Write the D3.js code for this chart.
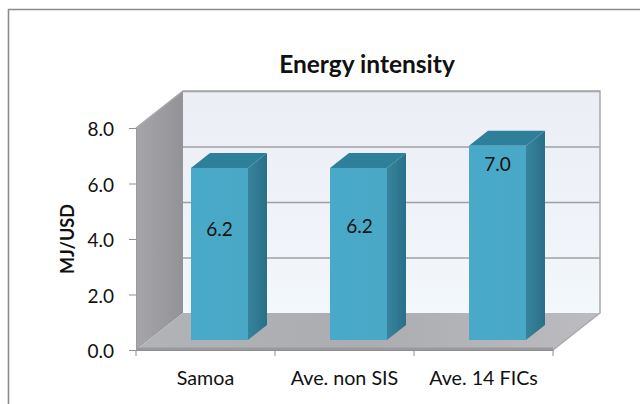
<!DOCTYPE html>
<html><head><meta charset="utf-8">
<script src="https://cdn.jsdelivr.net/npm/d3@7"></script>
<style>html,body{margin:0;background:#fff}svg{display:block}text{font-family:Lato,"Open Sans",sans-serif;fill:#111}</style>
</head><body><svg id="c" width="640" height="404"></svg>
<script>
const categories=["Samoa","Ave. non SIS","Ave. 14 FICs"];
const values=[6.2,6.2,7.0];
const valueLabels=["6.2","6.2","7.0"];
const yTicks=[0,2,4,6,8];
const title="Energy intensity";
const yTitle="MJ/USD";

const svg=d3.select("#c");
const x=d3.scaleBand().domain(categories).range([136,553]);
const y=d3.scaleLinear().domain([0,8]).range([350,128]);
const dx=47,dy=-37;        // chart depth
const bdx=19,bdy=-15;      // bar depth
const barW=57,barLift=10;
const labelShift=[[0,68],[1,65],[0,25]]; // label baseline offsets from bar top

const defs=svg.append("defs");
defs.append("filter").attr("id","soft").append("feGaussianBlur").attr("stdDeviation",0.55);
const grad=(id,x2,y2,stops)=>{const g=defs.append("linearGradient").attr("id",id).attr("x1",0).attr("y1",0).attr("x2",x2).attr("y2",y2);
 stops.forEach(s=>g.append("stop").attr("offset",s[0]).attr("stop-color",s[1]));};
grad("back",0,1,[[0,"#eceef5"],[.55,"#eff2f8"],[1,"#f3f8fc"]]);
grad("side",1,0,[[0,"#a6a6aa"],[1,"#929297"]]);
grad("floor",1,0,[[0,"#b2b3b7"],[.5,"#acadb1"],[1,"#bcbcc0"]]);
grad("front",1,0,[[0,"#48a9c9"],[1,"#4aa8c5"]]);
grad("sideBar",1,0,[[0,"#37849c"],[1,"#296f88"]]);

// outer frame
svg.append("path").attr("d","M8.5,404V9.5H640").attr("fill","none").attr("stroke","#8c8c8c").attr("stroke-width",1.6);

const art=svg.append("g").attr("filter","url(#soft)");
const poly=(pts,fill)=>art.append("polygon").attr("points",pts.map(p=>p.join(",")).join(" ")).attr("fill",fill);
const x0=x.range()[0],x1=x.range()[1],yb=y(0),yt=y(8);
// walls
poly([[x0+dx,yt+dy],[x1+dx,yt+dy],[x1+dx,yb+dy],[x0+dx,yb+dy]],"url(#back)");
poly([[x0,yt],[x0+dx,yt+dy],[x0+dx,yb+dy],[x0,yb]],"url(#side)");
poly([[x0,yb],[x0+dx,yb+dy],[x1+dx,yb+dy],[x1,yb]],"url(#floor)");
// floor lip
art.append("line").attr("x1",x0).attr("x2",x1).attr("y1",yb-1).attr("y2",yb-1).attr("stroke","#9a9a9e").attr("stroke-width",3);
// gridlines
yTicks.slice(1).forEach(t=>{
  art.append("line").attr("x1",x0+dx).attr("x2",x1+dx).attr("y1",y(t)+dy+.5).attr("y2",y(t)+dy+.5).attr("stroke","#a0a0a4").attr("stroke-width",1.5);
});
// wall edges
art.append("path").attr("d",`M${x0},${yt}L${x0+dx},${yt+dy}H${x1+dx}V${yb+dy}L${x1},${yb}`).attr("fill","none").attr("stroke","#a8a8ac").attr("stroke-width",1.5);
// bars
categories.forEach((c,i)=>{
  const l=x(c)+55,r=l+barW,b=y(0)-barLift,top=y(values[i])-barLift;
  poly([[r,top],[r+bdx,top+bdy],[r+bdx,b+bdy],[r,b]],"url(#sideBar)");
  poly([[l,top],[l+bdx,top+bdy],[r+bdx,top+bdy],[r,top]],"#2f7f99");
  art.append("rect").attr("x",l).attr("y",top).attr("width",barW).attr("height",b-top).attr("fill","url(#front)");
});
// axes
const gy=svg.append("g").attr("transform",`translate(${x0},0)`).call(d3.axisLeft(y).tickValues(yTicks).tickSize(7).tickPadding(14).tickFormat(d3.format(".1f")));
const gx=svg.append("g").attr("transform",`translate(0,${yb})`).call(d3.axisBottom(x).tickSize(0).tickPadding(21));
[...x.domain().map(d=>x(d)),x1].forEach(p=>gx.append("line").attr("x1",p).attr("x2",p).attr("y1",0).attr("y2",6).attr("stroke","#8e8e8e"));
gy.select(".domain").attr("stroke","#9a9a9e");
gx.select(".domain").attr("stroke","#8e8e8e");
gy.selectAll(".tick line").attr("stroke","#8e8e8e");
gy.selectAll("text").attr("font-size",19).attr("dy","0.42em").attr("dx",-1).style("font-family","Lato,sans-serif").attr("fill","#111");
gx.selectAll("text").attr("font-size",19.7).style("font-family","Lato,sans-serif").attr("fill","#111");
// data labels
categories.forEach((c,i)=>{
  svg.append("text").attr("x",x(c)+55+barW/2+labelShift[i][0]).attr("y",y(values[i])-barLift+labelShift[i][1])
    .attr("text-anchor","middle").attr("font-size",19).text(valueLabels[i]);
});
svg.append("text").attr("x",367).attr("y",73).attr("text-anchor","middle").attr("font-size",24.5).attr("font-weight",700).text(title);
svg.append("text").attr("transform","translate(74,239) rotate(-90)").attr("text-anchor","middle").attr("font-size",18).attr("font-weight",700).text(yTitle);
</script></body></html>
